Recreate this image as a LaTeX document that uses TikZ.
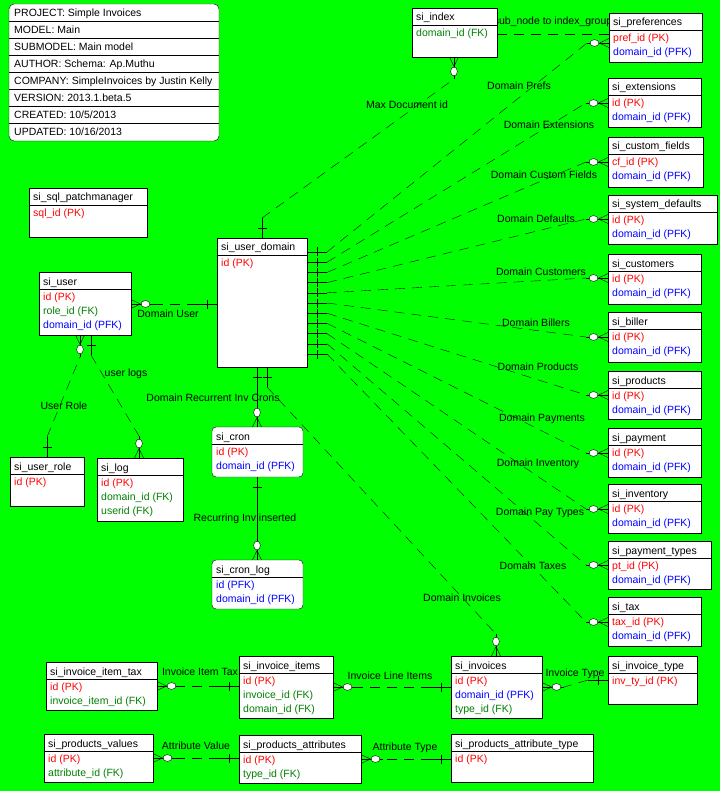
\documentclass[tikz,border=0pt]{standalone}
\usepackage{fontspec}
\setmainfont{Liberation Sans}
\usetikzlibrary{calc}

\definecolor{bgGreen}{RGB}{0,255,0}
\definecolor{pkRed}{RGB}{255,0,0}
\definecolor{fkGreen}{RGB}{0,128,0}
\definecolor{pfkBlue}{RGB}{0,0,255}

\pgfdeclarelayer{bg}
\pgfdeclarelayer{lines}
\pgfsetlayers{bg,lines,main}

\newcommand\erfont{\fontsize{10.5}{12}\selectfont}

\tikzset{
  tblbox/.style={draw=black, fill=white, inner sep=0pt, outer sep=0pt},
  txt/.style={anchor=base west, inner sep=0pt, font=\erfont},
  lbl/.style={anchor=base, inner sep=0pt, font=\erfont},
  reldash/.style={dash pattern=on 10pt off 7pt},
  relsolid/.style={},
}

% entity box: [extra style] name, x, y, width, height, title
\newcommand\ertable[7][]{%
  \node[tblbox,#1,minimum width=#5pt,minimum height=#6pt,anchor=north west] (#2) at (#3,#4) {};
  \draw ($(#2.north west)+(0,17)$) -- ($(#2.north east)+(0,17)$);
  \node[txt] (#2-title) at ($(#2.north west)+(4,13)$) {#7};
}
% attribute row: table, index, colour, text
\newcommand\errow[4]{%
  \node[txt,text=#3] (#1-row#2) at ($(#1.north west)+(4,{28.5+14*(#2-1)})$) {#4};
}
% relationship: [line style] parent point, parent direction, child point, child direction
\newcommand\erlink[5][reldash]{%
  \coordinate (lkA) at ($(#2)+(#3:20)$);
  \coordinate (lkB) at ($(#4)+(#5:22)$);
  \draw[#1] (lkA) -- (lkB);
  \draw (#2) -- (lkA) (#4) -- (lkB);
  \draw ($(#2)+(#3:10)+({#3+90}:4.5)$) -- ($(#2)+(#3:10)+({#3-90}:4.5)$);
  \coordinate (lkF) at ($(#4)+(#5:9.5)$);
  \draw (lkF) -- ($(#4)+({#5+90}:4.5)$) (lkF) -- ($(#4)+({#5-90}:4.5)$);
  \draw[fill=white] ($(#4)+(#5:14.5)$) circle[x radius=4.5pt, y radius=3.4pt, rotate=#5];
}

\begin{document}
\begin{tikzpicture}[x=1pt,y=-1pt,line width=0.8pt]
\begin{pgfonlayer}{bg}
  \fill[bgGreen] (0,0) rectangle (720,791);
\end{pgfonlayer}
\useasboundingbox (0,0) rectangle (720,791);

% model information block
\node[tblbox, rounded corners=5pt, minimum width=210pt, minimum height=137pt, anchor=north west] (info) at (9,4) {};
\foreach \k in {1,...,7}
  \draw ($(info.north west)+(0,17*\k)$) -- ($(info.north east)+(0,17*\k)$);
\foreach \s [count=\k] in {PROJECT: Simple Invoices, MODEL: Main, SUBMODEL: Main model,
    AUTHOR: Schema: Ap.Muthu, COMPANY: SimpleInvoices by Justin Kelly,
    VERSION: 2013.1.beta.5, CREATED: 10/5/2013, UPDATED: 10/16/2013}
  \node[txt] (info-\k) at ($(info.north west)+(5,{17*(\k-1)+13})$) {\s};

% entities
\ertable{idx}{412}{8}{85}{49}{si\_index}
\errow{idx}{1}{fkGreen}{domain\_id (FK)}

\ertable{pref}{609}{13}{93}{49}{si\_preferences}
\errow{pref}{1}{pkRed}{pref\_id (PK)}
\errow{pref}{2}{pfkBlue}{domain\_id (PFK)}

\ertable{ext}{608}{78}{93}{49}{si\_extensions}
\errow{ext}{1}{pkRed}{id (PK)}
\errow{ext}{2}{pfkBlue}{domain\_id (PFK)}

\ertable{cfld}{608}{137}{95}{50}{si\_custom\_fields}
\errow{cfld}{1}{pkRed}{cf\_id (PK)}
\errow{cfld}{2}{pfkBlue}{domain\_id (PFK)}

\ertable{sdef}{608}{195}{109}{49}{si\_system\_defaults}
\errow{sdef}{1}{pkRed}{id (PK)}
\errow{sdef}{2}{pfkBlue}{domain\_id (PFK)}

\ertable{cust}{608}{254}{93}{50}{si\_customers}
\errow{cust}{1}{pkRed}{id (PK)}
\errow{cust}{2}{pfkBlue}{domain\_id (PFK)}

\ertable{bill}{608}{312}{93}{50}{si\_biller}
\errow{bill}{1}{pkRed}{id (PK)}
\errow{bill}{2}{pfkBlue}{domain\_id (PFK)}

\ertable{prod}{608}{371}{93}{48}{si\_products}
\errow{prod}{1}{pkRed}{id (PK)}
\errow{prod}{2}{pfkBlue}{domain\_id (PFK)}

\ertable{pay}{608}{428}{93}{49}{si\_payment}
\errow{pay}{1}{pkRed}{id (PK)}
\errow{pay}{2}{pfkBlue}{domain\_id (PFK)}

\ertable{invt}{608}{484}{93}{49}{si\_inventory}
\errow{invt}{1}{pkRed}{id (PK)}
\errow{invt}{2}{pfkBlue}{domain\_id (PFK)}

\ertable{ptyp}{608}{541}{103}{48}{si\_payment\_types}
\errow{ptyp}{1}{pkRed}{pt\_id (PK)}
\errow{ptyp}{2}{pfkBlue}{domain\_id (PFK)}

\ertable{tax}{608}{597}{93}{49}{si\_tax}
\errow{tax}{1}{pkRed}{tax\_id (PK)}
\errow{tax}{2}{pfkBlue}{domain\_id (PFK)}

\ertable{ityp}{608}{656}{89}{48}{si\_invoice\_type}
\errow{ityp}{1}{pkRed}{inv\_ty\_id (PK)}

\ertable{invc}{451}{656}{91}{62}{si\_invoices}
\errow{invc}{1}{pkRed}{id (PK)}
\errow{invc}{2}{pfkBlue}{domain\_id (PFK)}
\errow{invc}{3}{fkGreen}{type\_id (FK)}

\ertable{atyp}{451}{734}{142}{48}{si\_products\_attribute\_type}
\errow{atyp}{1}{pkRed}{id (PK)}

\ertable{items}{239}{656}{94}{62}{si\_invoice\_items}
\errow{items}{1}{pkRed}{id (PK)}
\errow{items}{2}{fkGreen}{invoice\_id (FK)}
\errow{items}{3}{fkGreen}{domain\_id (FK)}

\ertable{itax}{46}{662}{111}{48}{si\_invoice\_item\_tax}
\errow{itax}{1}{pkRed}{id (PK)}
\errow{itax}{2}{fkGreen}{invoice\_item\_id (FK)}

\ertable{pval}{44}{734}{109}{48}{si\_products\_values}
\errow{pval}{1}{pkRed}{id (PK)}
\errow{pval}{2}{fkGreen}{attribute\_id (FK)}

\ertable{pattr}{239}{735}{122}{48}{si\_products\_attributes}
\errow{pattr}{1}{pkRed}{id (PK)}
\errow{pattr}{2}{fkGreen}{type\_id (FK)}

\ertable{patch}{29}{188}{118}{49}{si\_sql\_patchmanager}
\errow{patch}{1}{pkRed}{sql\_id (PK)}

\ertable{ud}{217}{238}{90}{129}{si\_user\_domain}
\errow{ud}{1}{pkRed}{id (PK)}

\ertable{usr}{39}{272}{92}{63}{si\_user}
\errow{usr}{1}{pkRed}{id (PK)}
\errow{usr}{2}{fkGreen}{role\_id (FK)}
\errow{usr}{3}{pfkBlue}{domain\_id (PFK)}

\ertable{urole}{10}{457}{74}{49}{si\_user\_role}
\errow{urole}{1}{pkRed}{id (PK)}

\ertable{log}{97}{458}{86}{63}{si\_log}
\errow{log}{1}{pkRed}{id (PK)}
\errow{log}{2}{fkGreen}{domain\_id (FK)}
\errow{log}{3}{fkGreen}{userid (FK)}

\ertable[rounded corners=4pt]{cron}{212}{427}{91}{50}{si\_cron}
\errow{cron}{1}{pkRed}{id (PK)}
\errow{cron}{2}{pfkBlue}{domain\_id (PFK)}

\ertable[rounded corners=4pt]{clog}{212}{560}{91}{49}{si\_cron\_log}
\errow{clog}{1}{pfkBlue}{id (PFK)}
\errow{clog}{2}{pfkBlue}{domain\_id (PFK)}

% relationships and their names
\begin{pgfonlayer}{lines}
  % fan of domain relationships on the right side of si_user_domain
  \foreach \tb/\ob [count=\i] in {pref/30,ext/25,cfld/25,sdef/24,cust/24,bill/25,prod/24,pay/25,invt/25,ptyp/24,tax/25} {
    \coordinate (udR\i) at ($(ud.north east)+(0,{14+10.2*(\i-1)})$);
    \coordinate (\tb-in) at ($(\tb.north west)+(0,\ob)$);
    \erlink{udR\i}{0}{\tb-in}{180}
  }

  \coordinate (udL) at ($(ud.north west)+(0,66)$);
  \coordinate (usr-out) at ($(usr.north east)+(0,32)$);
  \erlink{udL}{180}{usr-out}{0}

  \coordinate (udT) at ($(ud.north west)+(45,0)$);
  \coordinate (idx-in) at ($(idx.south west)+(42,0)$);
  \erlink{udT}{270}{idx-in}{90}

  \coordinate (udB1) at ($(ud.south west)+(40,0)$);
  \coordinate (udB2) at ($(ud.south west)+(50,0)$);
  \coordinate (invc-top) at ($(invc.north west)+(45,0)$);
  \erlink{udB2}{90}{invc-top}{270}

  \coordinate (cron-top) at ($(cron.north west)+(45,0)$);
  \erlink[relsolid]{udB1}{90}{cron-top}{270}

  \coordinate (cron-bot) at ($(cron.south west)+(45,0)$);
  \coordinate (clog-top) at ($(clog.north west)+(45,0)$);
  \erlink[relsolid]{cron-bot}{90}{clog-top}{270}

  \coordinate (urole-top) at ($(urole.north west)+(37,0)$);
  \coordinate (usr-b1) at ($(usr.south west)+(41,0)$);
  \erlink{urole-top}{270}{usr-b1}{90}

  \coordinate (usr-b2) at ($(usr.south west)+(52,0)$);
  \coordinate (log-top) at ($(log.north west)+(42,0)$);
  \erlink{usr-b2}{90}{log-top}{270}

  \coordinate (items-l) at ($(items.north west)+(0,30)$);
  \coordinate (itax-r) at ($(itax.north east)+(0,24)$);
  \erlink{items-l}{180}{itax-r}{0}

  \coordinate (invc-l) at ($(invc.north west)+(0,31)$);
  \coordinate (items-r) at ($(items.north east)+(0,31)$);
  \erlink{invc-l}{180}{items-r}{0}

  \coordinate (ityp-l) at ($(ityp.north west)+(0,24)$);
  \coordinate (invc-r) at ($(invc.north east)+(0,31)$);
  \erlink{ityp-l}{180}{invc-r}{0}

  \coordinate (pattr-l) at ($(pattr.north west)+(0,23)$);
  \coordinate (pval-r) at ($(pval.north east)+(0,24)$);
  \erlink{pattr-l}{180}{pval-r}{0}

  \coordinate (atyp-l) at ($(atyp.north west)+(0,25)$);
  \coordinate (pattr-r) at ($(pattr.north east)+(0,24)$);
  \erlink{atyp-l}{180}{pattr-r}{0}

  \coordinate (idx-r) at ($(idx.north east)+(0,26)$);
  \coordinate (pref-l) at ($(pref.north west)+(0,21)$);
  \draw[reldash] (idx-r) -- (pref-l);

  \node[lbl] (l-sub) at (553,25) {sub\_node to index\_group};
  \node[lbl] (l-maxdoc) at (407,109) {Max Document id};
  \node[lbl] (l-prefs) at (519,89.5) {Domain Prefs};
  \node[lbl] (l-ext) at (549,129) {Domain Extensions};
  \node[lbl] (l-cfld) at (544,179) {Domain Custom Fields};
  \node[lbl] (l-sdef) at (536,223) {Domain Defaults};
  \node[lbl] (l-cust) at (541,275) {Domain Customers};
  \node[lbl] (l-bill) at (536,326) {Domain Billers};
  \node[lbl] (l-prod) at (538,370) {Domain Products};
  \node[lbl] (l-pay) at (542,421) {Domain Payments};
  \node[lbl] (l-invt) at (538,466) {Domain Inventory};
  \node[lbl] (l-ptyp) at (540,515) {Domain Pay Types};
  \node[lbl] (l-tax) at (533,569) {Domain Taxes};
  \node[lbl] (l-invc) at (462,601) {Domain Invoices};
  \node[lbl] (l-user) at (168,317) {Domain User};
  \node[lbl] (l-role) at (64,409) {User Role};
  \node[lbl] (l-logs) at (126,376) {user logs};
  \node[lbl] (l-cron) at (213,401) {Domain Recurrent Inv Crons};
  \node[lbl] (l-clog) at (245,521) {Recurring Inv inserted};
  \node[lbl] (l-itax) at (200,675) {Invoice Item Tax};
  \node[lbl] (l-items) at (390,679) {Invoice Line Items};
  \node[lbl] (l-ityp) at (575,676) {Invoice Type};
  \node[lbl] (l-aval) at (196,749) {Attribute Value};
  \node[lbl] (l-atyp) at (405,750) {Attribute Type};
\end{pgfonlayer}
\end{tikzpicture}
\end{document}
